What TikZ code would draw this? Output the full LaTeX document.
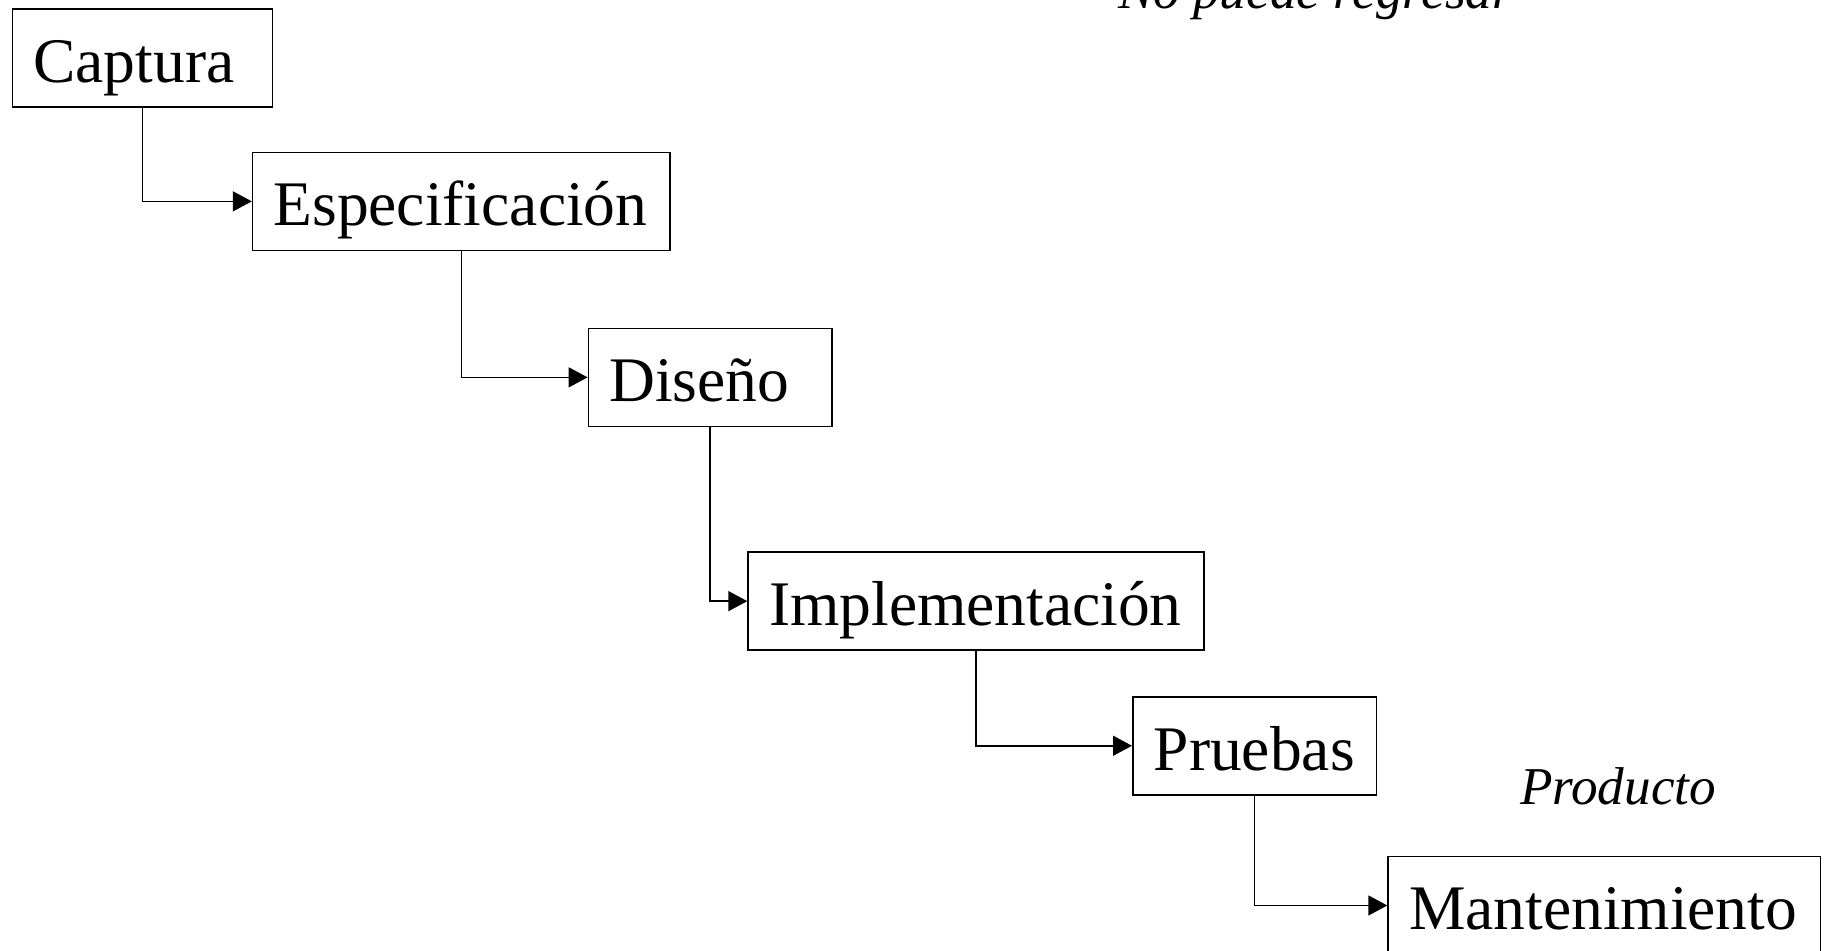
\documentclass[tikz,border=0pt]{standalone}
\usepackage{fontspec}
\setmainfont{Liberation Serif}
\usetikzlibrary{arrows.meta}
\tikzset{
  box/.style={draw, line width=0.75pt, anchor=north west, inner xsep=10.5pt, inner ysep=0pt,
    minimum height=49pt, align=left, text height=36.7pt, text depth=12.3pt,
    font=\fontsize{31.75}{38}\selectfont},
  conn/.style={line width=0.75pt, -{Triangle[length=9.5pt,width=10pt]}},
  note/.style={anchor=base, inner sep=0pt, font=\fontsize{26.6}{32}\selectfont\itshape}
}
\begin{document}
\begin{tikzpicture}[x=0.5pt,y=-0.5pt]
\useasboundingbox (0,0) rectangle (1828,950);
\clip (0,0) rectangle (1828,950);
\node[box, text width=109pt] (cap) at (11.7,8.2) {Captura};
\node[box, text width=187.7pt] (esp) at (251.8,151.6) {Especificación};
\node[box, text width=100.8pt] (dis) at (587.6,327.6) {Diseño};
\node[box, text width=206.9pt] (imp) at (747.3,551.4) {Implementación};
\node[box, text width=100.85pt] (pru) at (1132,696) {Pruebas};
\node[box, text width=195.25pt] (man) at (1387.3,855.7) {Mantenimiento};
\draw[conn] (cap.south) |- (esp.west);
\draw[conn] (esp.south) |- (dis.west);
\draw[conn] (dis.south) |- (imp.west);
\draw[conn] (imp.south) |- (pru.west);
\draw[conn] (pru.south) |- (man.west);
\node[note] (nr) at (1315.5,8) {No puede regresar};
\node[note] (prod) at (1618,804) {Producto};
\end{tikzpicture}
\end{document}
